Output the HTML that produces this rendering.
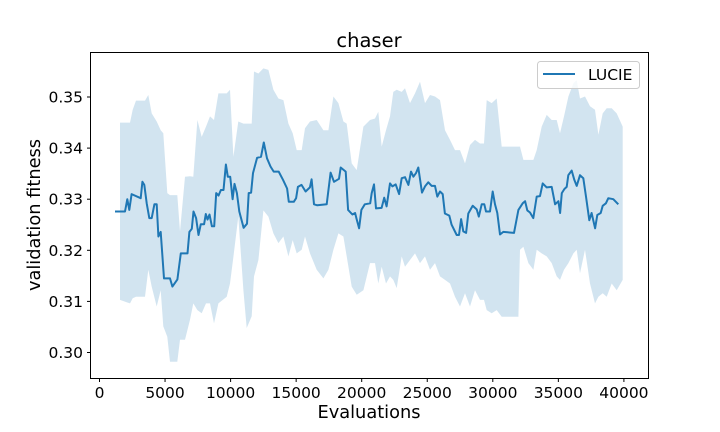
<!DOCTYPE html>
<html><head><meta charset="utf-8"><style>
html,body{margin:0;padding:0;background:#fff;}
svg{display:block;font-family:"DejaVu Sans","Liberation Sans",sans-serif;}
</style></head><body>
<svg id="chart" width="720" height="432" viewBox="0 0 720 432">
<rect x="0" y="0" width="720" height="432" fill="#fff"/>
<g id="plot"></g>
<rect x="90.5" y="52.5" width="558" height="326" fill="none" stroke="#000" stroke-width="1"/>
<g id="xt"></g>
<g id="yt"></g>
<text x="369" y="47" text-anchor="middle" font-size="19.5">chaser</text>
<text x="369" y="418" text-anchor="middle" font-size="17.8">Evaluations</text>
<text transform="translate(40,215) rotate(-90)" text-anchor="middle" font-size="17.8">validation fitness</text>
<g>
<rect x="537.5" y="61.5" width="102" height="27" rx="3" fill="#fff" fill-opacity="0.8" stroke="#ccc"/>
<line x1="543" y1="74" x2="575" y2="74" stroke="#1f77b4" stroke-width="2"/>
<text x="588" y="80" font-size="15.5">LUCIE</text>
</g>
</svg>
<script>
const lineX=[1180,1945,2120,2270,2450,3140,3270,3420,3600,3800,3980,4190,4360,4490,4670,4920,5380,5560,5940,6200,6710,6860,7040,7170,7370,7550,7730,7980,8110,8240,8390,8570,8750,8900,9080,9260,9460,9640,9790,9970,10150,10300,10480,10660,10990,11250,11380,11560,11710,12020,12320,12530,12780,13040,13290,13670,14000,14310,14440,14820,15000,15130,15410,15720,16050,16180,16360,16610,17330,17630,17890,18270,18400,18780,18960,19290,19500,19600,19800,19980,20240,20650,20760,20940,21090,21520,21720,21900,22160,22340,22590,22850,23050,23300,23560,23760,23940,24140,24320,24600,24830,25080,25340,25590,25770,25970,26180,26350,26680,26860,27250,27420,27580,27750,27960,28130,28470,28770,28930,29150,29350,29480,29790,29990,30170,30340,30550,30800,31620,31950,32280,32460,32630,32840,33090,33350,33600,33810,34110,34490,34750,35000,35130,35260,35460,35640,35760,36020,36220,36400,36650,36900,37110,37360,37540,37800,37970,38230,38380,38630,38810,39190,39570];
const lineY=[0.3276,0.3276,0.3300,0.3279,0.3310,0.3302,0.3334,0.3328,0.3292,0.3263,0.3263,0.3290,0.3290,0.3227,0.3236,0.3145,0.3145,0.3129,0.3143,0.3194,0.3194,0.3236,0.3242,0.3276,0.3263,0.3230,0.3251,0.3251,0.3271,0.3260,0.3270,0.3247,0.3247,0.3312,0.3307,0.3318,0.3318,0.3368,0.3344,0.3344,0.3300,0.3330,0.3312,0.3276,0.3244,0.3252,0.3312,0.3313,0.3351,0.3381,0.3383,0.3411,0.3380,0.3364,0.3354,0.3354,0.3338,0.3321,0.3295,0.3295,0.3302,0.3324,0.3328,0.3315,0.3323,0.3339,0.3290,0.3288,0.3290,0.3352,0.3334,0.3340,0.3362,0.3354,0.3279,0.3270,0.3273,0.3262,0.3243,0.3279,0.3290,0.3292,0.3312,0.3329,0.3282,0.3283,0.3303,0.3286,0.3331,0.3325,0.3329,0.3310,0.3341,0.3343,0.3328,0.3354,0.3344,0.3351,0.3362,0.3313,0.3325,0.3333,0.3326,0.3326,0.3305,0.3315,0.3310,0.3272,0.3268,0.3250,0.3230,0.3230,0.3261,0.3237,0.3234,0.3272,0.3287,0.3280,0.3266,0.3290,0.3290,0.3276,0.3276,0.3315,0.3290,0.3273,0.3231,0.3236,0.3234,0.3279,0.3292,0.3296,0.3278,0.3274,0.3263,0.3305,0.3306,0.3331,0.3323,0.3324,0.3290,0.3296,0.3273,0.3312,0.3320,0.3324,0.3347,0.3356,0.3338,0.3326,0.3347,0.3341,0.3305,0.3259,0.3273,0.3243,0.3269,0.3273,0.3287,0.3292,0.3302,0.3300,0.3290];
const bandX=[1564,2327,2530,2784,3471,3725,3980,4361,4666,4870,5175,5378,5937,6141,6523,6904,7158,7464,7794,8125,8430,8735,9066,9701,9955,10210,10591,10973,11227,11608,11786,12117,12499,12880,13262,13643,14024,14406,14736,15041,15423,15677,16058,16567,17076,17457,17839,18220,18602,18856,19237,19619,20128,20634,21015,21270,21524,21855,22160,22414,22668,23050,23304,23686,24067,24448,24830,25211,25593,25974,26356,26737,27119,27500,27881,28263,28644,29026,29331,29534,29916,30297,30679,31950,32077,32331,32713,33094,33348,33730,34111,34493,34874,35129,35434,35764,36146,36400,36654,37036,37418,37799,38053,38384,38689,39071,39452,39910];
const bandUpper=[0.3450,0.3450,0.3475,0.3493,0.3493,0.3504,0.3468,0.3452,0.3435,0.3429,0.3312,0.3308,0.3308,0.3237,0.3344,0.3345,0.3344,0.3455,0.3422,0.3442,0.3462,0.3455,0.3507,0.3507,0.3514,0.3383,0.3452,0.3448,0.3448,0.3448,0.3550,0.3546,0.3556,0.3553,0.3514,0.3497,0.3494,0.3448,0.3429,0.3396,0.3396,0.3439,0.3452,0.3455,0.3435,0.3435,0.3501,0.3488,0.3452,0.3448,0.3370,0.3357,0.3442,0.3455,0.3458,0.3471,0.3403,0.3435,0.3462,0.3510,0.3514,0.3510,0.3517,0.3488,0.3507,0.3530,0.3488,0.3504,0.3501,0.3494,0.3435,0.3416,0.3396,0.3396,0.3370,0.3406,0.3416,0.3409,0.3409,0.3494,0.3488,0.3497,0.3403,0.3403,0.3403,0.3377,0.3377,0.3377,0.3396,0.3442,0.3465,0.3455,0.3455,0.3429,0.3462,0.3501,0.3527,0.3533,0.3497,0.3501,0.3482,0.3475,0.3426,0.3468,0.3478,0.3478,0.3468,0.3442];
const bandLower=[0.3103,0.3096,0.3106,0.3109,0.3109,0.3162,0.3129,0.3090,0.3122,0.3051,0.3031,0.2982,0.2982,0.3025,0.3025,0.3064,0.3096,0.3083,0.3077,0.3096,0.3096,0.3057,0.3096,0.3109,0.3135,0.3187,0.3266,0.3122,0.3048,0.3071,0.3149,0.3181,0.3278,0.3266,0.3233,0.3214,0.3227,0.3188,0.3220,0.3194,0.3201,0.3227,0.3194,0.3162,0.3145,0.3162,0.3201,0.3233,0.3227,0.3188,0.3129,0.3113,0.3122,0.3175,0.3175,0.3135,0.3168,0.3135,0.3149,0.3142,0.3126,0.3188,0.3168,0.3181,0.3194,0.3175,0.3188,0.3162,0.3175,0.3149,0.3142,0.3135,0.3109,0.3090,0.3116,0.3090,0.3122,0.3103,0.3103,0.3083,0.3077,0.3083,0.3070,0.3070,0.3201,0.3207,0.3175,0.3162,0.3201,0.3194,0.3188,0.3175,0.3149,0.3142,0.3162,0.3175,0.3194,0.3201,0.3155,0.3201,0.3135,0.3096,0.3109,0.3116,0.3109,0.3135,0.3122,0.3142];
const xTicks=[0,5000,10000,15000,20000,25000,30000,35000,40000];
const yTicks=[0.30,0.31,0.32,0.33,0.34,0.35];

const NS='http://www.w3.org/2000/svg';
function xs(v){return 99.5+v*0.01311;}
function ys(v){return 352.5-(v-0.30)*5110;}
const plot=document.getElementById('plot');
let d='M'+bandX.map((x,i)=>xs(x).toFixed(1)+','+ys(bandUpper[i]).toFixed(1)).join('L');
for(let i=bandX.length-1;i>=0;i--) d+='L'+xs(bandX[i]).toFixed(1)+','+ys(bandLower[i]).toFixed(1);
d+='Z';
const band=document.createElementNS(NS,'path');
band.setAttribute('d',d);band.setAttribute('fill','#1f77b4');band.setAttribute('fill-opacity','0.2');


plot.appendChild(band);
const line=document.createElementNS(NS,'path');
line.setAttribute('d','M'+lineX.map((x,i)=>xs(x).toFixed(1)+','+ys(lineY[i]).toFixed(1)).join('L'));
line.setAttribute('fill','none');line.setAttribute('stroke','#1f77b4');line.setAttribute('stroke-width','2');line.setAttribute('stroke-linejoin','round');


plot.appendChild(line);
const xt=document.getElementById('xt');
xTicks.forEach(t=>{
  const x=xs(t);
  const l=document.createElementNS(NS,'line');
  l.setAttribute('x1',x);l.setAttribute('x2',x);l.setAttribute('y1',378.5);l.setAttribute('y2',382);l.setAttribute('stroke','#000');
  
  
  xt.appendChild(l);
  const tx=document.createElementNS(NS,'text');
  tx.setAttribute('x',x);tx.setAttribute('y',398);tx.setAttribute('text-anchor','middle');tx.setAttribute('font-size','15.5');
  tx.textContent=String(t);
  
  
  xt.appendChild(tx);
});
const yt=document.getElementById('yt');
yTicks.forEach(t=>{
  const y=ys(t);
  const l=document.createElementNS(NS,'line');
  l.setAttribute('x1',87);l.setAttribute('x2',90.5);l.setAttribute('y1',y);l.setAttribute('y2',y);l.setAttribute('stroke','#000');
  
  
  yt.appendChild(l);
  const tx=document.createElementNS(NS,'text');
  tx.setAttribute('x',83);tx.setAttribute('y',y+5.5);tx.setAttribute('text-anchor','end');tx.setAttribute('font-size','15.5');
  tx.textContent=t.toFixed(2);
  
  
  yt.appendChild(tx);
});
</script>
</body></html>
